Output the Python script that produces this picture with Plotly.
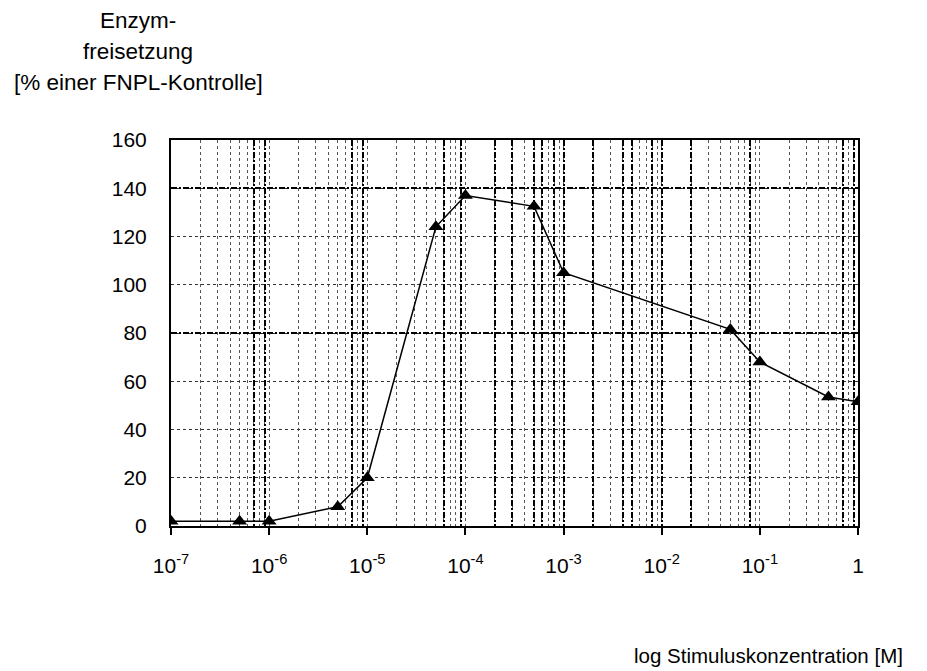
import plotly.graph_objects as go

# Stimulus concentration [M] and enzyme release [% of FNPL control]
konzentration = [1e-7, 5e-7, 1e-6, 5e-6, 1e-5, 5e-5, 1e-4, 5e-4, 1e-3, 5e-2, 1e-1, 5e-1, 1.0]
freisetzung = [2, 2, 2, 8, 20, 124, 137, 132.5, 105, 81.5, 68, 53.5, 51.5]

dekaden = [1e-7, 1e-6, 1e-5, 1e-4, 1e-3, 1e-2, 1e-1, 1.0]
dekaden_text = ["10<sup>-7</sup>", "10<sup>-6</sup>", "10<sup>-5</sup>", "10<sup>-4</sup>",
                "10<sup>-3</sup>", "10<sup>-2</sup>", "10<sup>-1</sup>", "1"]
y_ticks = [0, 20, 40, 60, 80, 100, 120, 140, 160]

# Heavier grid lines of the log paper
x_stark = [7e-7, 9e-7, 7e-6, 9e-6, 6e-5, 9e-5, 2e-4, 3e-4, 5e-4, 6e-4, 8e-4, 1e-3,
           2e-3, 4e-3, 5e-3, 8e-3, 1e-2, 2e-2, 8e-2, 7e-1, 9e-1]
y_stark = [80, 140]

font = "Liberation Sans, Arial, sans-serif"
fs = 21

fig = go.Figure()
# transparent copy so the paper-grid axes (x, y) are built
fig.add_trace(go.Scatter(
    x=konzentration, y=freisetzung, mode="lines",
    line=dict(color="rgba(0,0,0,0)", width=0),
    showlegend=False, hoverinfo="skip", xaxis="x", yaxis="y",
))
# measured curve on the overlay axes with the heavy grid
fig.add_trace(go.Scatter(
    x=konzentration, y=freisetzung, mode="lines+markers",
    line=dict(color="black", width=1.5),
    marker=dict(symbol="triangle-up", size=13, color="black"),
    showlegend=False, hoverinfo="x+y", xaxis="x2", yaxis="y2",
))

fig.update_layout(
    width=927, height=671,
    margin=dict(l=171, r=69, t=140, b=145),
    paper_bgcolor="white", plot_bgcolor="white",
    font=dict(family=font, size=fs, color="black"),
    xaxis=dict(
        type="log", range=[-7, 0],
        tickvals=dekaden, ticktext=dekaden_text,
        ticks="outside", ticklen=7, tickcolor="black", tickwidth=1.5,
        ticklabelstandoff=13,
        showgrid=False,
        minor=dict(dtick="D1", showgrid=True, gridcolor="#555",
                   griddash="3px,3px", gridwidth=1, ticks=""),
        showline=True, linecolor="black", linewidth=2, mirror=True,
        zeroline=False,
    ),
    yaxis=dict(
        range=[0, 160], tickvals=y_ticks,
        ticks="", ticklabelstandoff=18,
        showgrid=True, gridcolor="#333", griddash="3px,3px", gridwidth=1,
        showline=True, linecolor="black", linewidth=2, mirror=True,
        zeroline=False,
    ),
    xaxis2=dict(
        type="log", range=[-7, 0], overlaying="x", anchor="y2",
        tickvals=x_stark, showticklabels=False, ticks="",
        showgrid=True, gridcolor="black", griddash="6px,2px,2px,2px", gridwidth=2,
        showline=False, zeroline=False,
    ),
    yaxis2=dict(
        range=[0, 160], overlaying="y", anchor="x2",
        tickvals=y_stark, showticklabels=False, ticks="",
        showgrid=True, gridcolor="black", griddash="6px,2px,2px,2px", gridwidth=2,
        showline=False, zeroline=False,
    ),
)

# Y axis title in three lines, top left
titel_zeilen = ["Enzym-", "freisetzung", "[% einer FNPL-Kontrolle]"]
for i, zeile in enumerate(titel_zeilen):
    fig.add_annotation(
        text=zeile, xref="paper", yref="paper",
        x=(138 - 171) / 689, y=(526 - 20 - 31.5 * i) / 386,
        xanchor="center", yanchor="middle", showarrow=False,
        font=dict(family=font, size=22.5, color="black"),
    )

# X axis title, bottom right
fig.add_annotation(
    text="log Stimuluskonzentration [M]", xref="paper", yref="paper",
    x=(907 - 171) / 689, y=(526 - 655) / 386,
    xanchor="right", yanchor="middle", showarrow=False,
    font=dict(family=font, size=20.5, color="black"),
)

fig.write_html("out.html")
